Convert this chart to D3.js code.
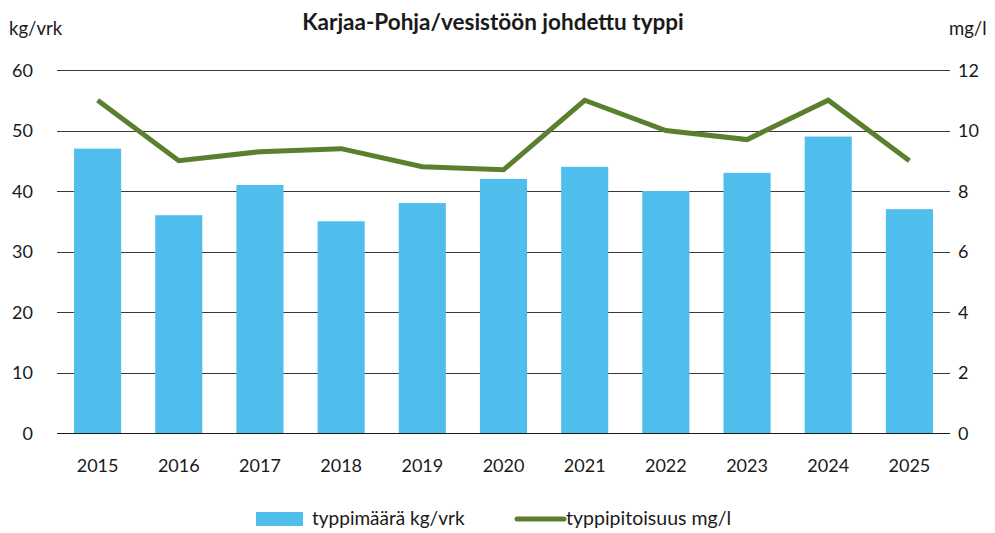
<!DOCTYPE html>
<html>
<head>
<meta charset="utf-8">
<script src="https://cdn.jsdelivr.net/npm/d3@7"></script>
<style>
  body { margin: 0; background: #fff; }
  text { font-family: Lato, "Open Sans", sans-serif; fill: #1a1a1a; }
</style>
</head>
<body>
<div id="chart"></div>
<script>
// data
var years = ["2015", "2016", "2017", "2018", "2019", "2020", "2021", "2022", "2023", "2024", "2025"];
var kgPerDay = [47, 36, 41, 35, 38, 42, 44, 40, 43, 49, 37];
var mgPerL = [11, 9.0, 9.3, 9.4, 8.8, 8.7, 11, 10, 9.7, 11, 9.0];
var leftTicks = [0, 10, 20, 30, 40, 50, 60];
var rightTicks = [0, 2, 4, 6, 8, 10, 12];

var width = 995, height = 533;
var margin = {top: 70, right: 45, bottom: 100, left: 57};

var svg = d3.select("#chart")
    .append("svg")
    .attr("width", width)
    .attr("height", height)

var x = d3.scaleBand()
    .domain(years)
    .range([margin.left, width - margin.right])
    .paddingInner(0.42)
    .paddingOuter(0.21)

var yL = d3.scaleLinear().domain([0, 60]).range([height - margin.bottom, margin.top])
var yR = d3.scaleLinear().domain([0, 12]).range([height - margin.bottom, margin.top])

// gridlines (behind bars)
svg.append("g")
    .selectAll("line")
    .data(leftTicks)
    .join("line")
    .attr("x1", margin.left)
    .attr("x2", width - margin.right)
    .attr("y1", d => Math.round(yL(d)) + 0.5)
    .attr("y2", d => Math.round(yL(d)) + 0.5)
    .attr("stroke", "#3a3a3a")
    .attr("stroke-width", 1)

// bars
svg.append("g")
    .selectAll("rect")
    .data(kgPerDay)
    .join("rect")
    .attr("x", (d, i) => x(years[i]))
    .attr("width", x.bandwidth())
    .attr("y", d => yL(d))
    .attr("height", d => yL(0) - yL(d))
    .attr("fill", "#4fbeec")

// baseline on top
svg.append("line")
    .attr("x1", margin.left)
    .attr("x2", width - margin.right)
    .attr("y1", Math.round(yL(0)) + 0.5)
    .attr("y2", Math.round(yL(0)) + 0.5)
    .attr("stroke", "#1a1a1a")

// line series
var line = d3.line()
    .x((d, i) => x(years[i]) + x.bandwidth() / 2)
    .y(d => yR(d))

svg.append("path")
    .datum(mgPerL)
    .attr("d", line)
    .attr("fill", "none")
    .attr("stroke", "#5b7f2e")
    .attr("stroke-width", 5)
    .attr("stroke-linejoin", "miter")

// left axis
var leftAxis = svg.append("g")
    .attr("transform", "translate(" + (margin.left - 24) + ",0)")
    .call(d3.axisLeft(yL).tickValues(leftTicks).tickSize(0).tickPadding(0))
leftAxis.select(".domain").remove()
leftAxis.selectAll("text").style("font-size", "18px").attr("dy", "0.35em")

// right axis
var rightAxis = svg.append("g")
    .attr("transform", "translate(" + (width - margin.right + 8) + ",0)")
    .call(d3.axisRight(yR).tickValues(rightTicks).tickSize(0).tickPadding(0))
rightAxis.select(".domain").remove()
rightAxis.selectAll("text").style("font-size", "18px").attr("dy", "0.35em")

// x axis
var xAxis = svg.append("g")
    .attr("transform", "translate(0," + (height - margin.bottom) + ")")
    .call(d3.axisBottom(x).tickSize(0).tickPadding(26))
xAxis.select(".domain").remove()
xAxis.selectAll("text").style("font-size", "18px")

// titles
svg.append("text")
    .attr("x", 493)
    .attr("y", 30)
    .attr("text-anchor", "middle")
    .style("font-size", "22.5px")
    .style("font-weight", "bold")
    .text("Karjaa-Pohja/vesistöön johdettu typpi")

svg.append("text")
    .attr("x", 9)
    .attr("y", 35)
    .style("font-size", "18.5px")
    .text("kg/vrk")

svg.append("text")
    .attr("x", 949)
    .attr("y", 35)
    .style("font-size", "18.5px")
    .text("mg/l")

// legend
var legend = svg.append("g")
legend.append("rect")
    .attr("x", 256).attr("y", 512)
    .attr("width", 47).attr("height", 14)
    .attr("fill", "#4fbeec")
legend.append("text")
    .attr("x", 312).attr("y", 525)
    .style("font-size", "19px")
    .text("typpimäärä kg/vrk")
legend.append("line")
    .attr("x1", 517).attr("x2", 564)
    .attr("y1", 519).attr("y2", 519)
    .attr("stroke", "#5b7f2e")
    .attr("stroke-width", 5)
    .attr("stroke-linecap", "round")
legend.append("text")
    .attr("x", 566).attr("y", 525)
    .style("font-size", "19.5px")
    .text("typpipitoisuus mg/l")
</script>
</body>
</html>
